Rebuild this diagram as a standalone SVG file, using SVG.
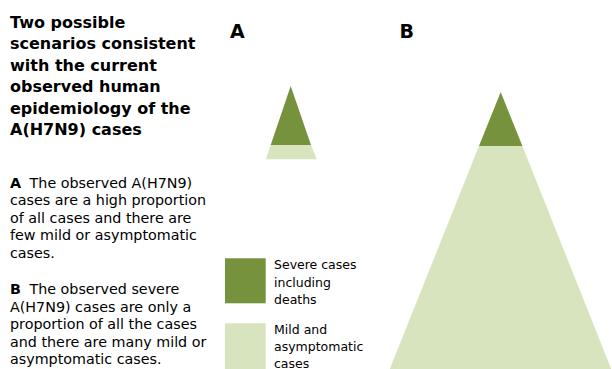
<svg xmlns="http://www.w3.org/2000/svg" width="612" height="369" viewBox="0 0 612 369">
<style>
.t{font-family:"DejaVu Sans","Verdana",sans-serif;fill:#000}
.title{font-size:16px;font-weight:bold}
.body{font-size:14.3px}
.lbl{font-size:19px;font-weight:bold}
.leg{font-size:12.5px}
.dark{fill:#76923C}
.light{fill:#D7E4BD}
</style>
<rect width="612" height="369" fill="#fff"/>
<g id="title" class="t title">
<text x="10" y="27.5">Two possible</text>
<text x="10" y="49">scenarios consistent</text>
<text x="10" y="70.5">with the current</text>
<text x="10" y="92">observed human</text>
<text x="10" y="113.5">epidemiology of the</text>
<text x="10" y="135">A(H7N9) cases</text>
</g>
<g id="desc" class="t body">
<text x="10" y="187.5"><tspan font-weight="bold">A</tspan><tspan dx="4"> The observed A(H7N9)</tspan></text>
<text x="10" y="205">cases are a high proportion</text>
<text x="10" y="222.5">of all cases and there are</text>
<text x="10" y="240">few mild or asymptomatic</text>
<text x="10" y="257.5">cases.</text>
<text x="10" y="294.3"><tspan font-weight="bold">B</tspan><tspan dx="4"> The observed severe</tspan></text>
<text x="10" y="311.8">A(H7N9) cases are only a</text>
<text x="10" y="329.3">proportion of all the cases</text>
<text x="10" y="346.8">and there are many mild or</text>
<text x="10" y="364.3">asymptomatic cases.</text>
</g>
<g id="labelA" class="t lbl"><text x="230" y="38.3">A</text></g>
<g id="labelB" class="t lbl"><text x="399.5" y="38.3">B</text></g>
<g id="pyramidA">
<polygon class="light" points="270.7,145 311,145 316.7,159.3 266,159.3"/>
<polygon class="dark" points="290.7,86 311,145 270.7,145"/>
</g>
<g id="pyramidB">
<polygon class="light" points="479,146 522.4,146 612,371 389,371"/>
<polygon class="dark" points="500.7,92 522.4,146 479,146"/>
</g>
<g id="legend-severe">
<rect class="dark" x="225" y="258.3" width="40.7" height="45"/>
<g class="t leg">
<text x="274" y="269.3">Severe cases</text>
<text x="274" y="286.5">including</text>
<text x="274" y="303.5">deaths</text>
</g>
</g>
<g id="legend-mild">
<rect class="light" x="225" y="323.3" width="40.7" height="50"/>
<g class="t leg">
<text x="274" y="333.5">Mild and</text>
<text x="274" y="350.5">asymptomatic</text>
<text x="274" y="367.5">cases</text>
</g>
</g>
<g id="connectors"/>
</svg>
